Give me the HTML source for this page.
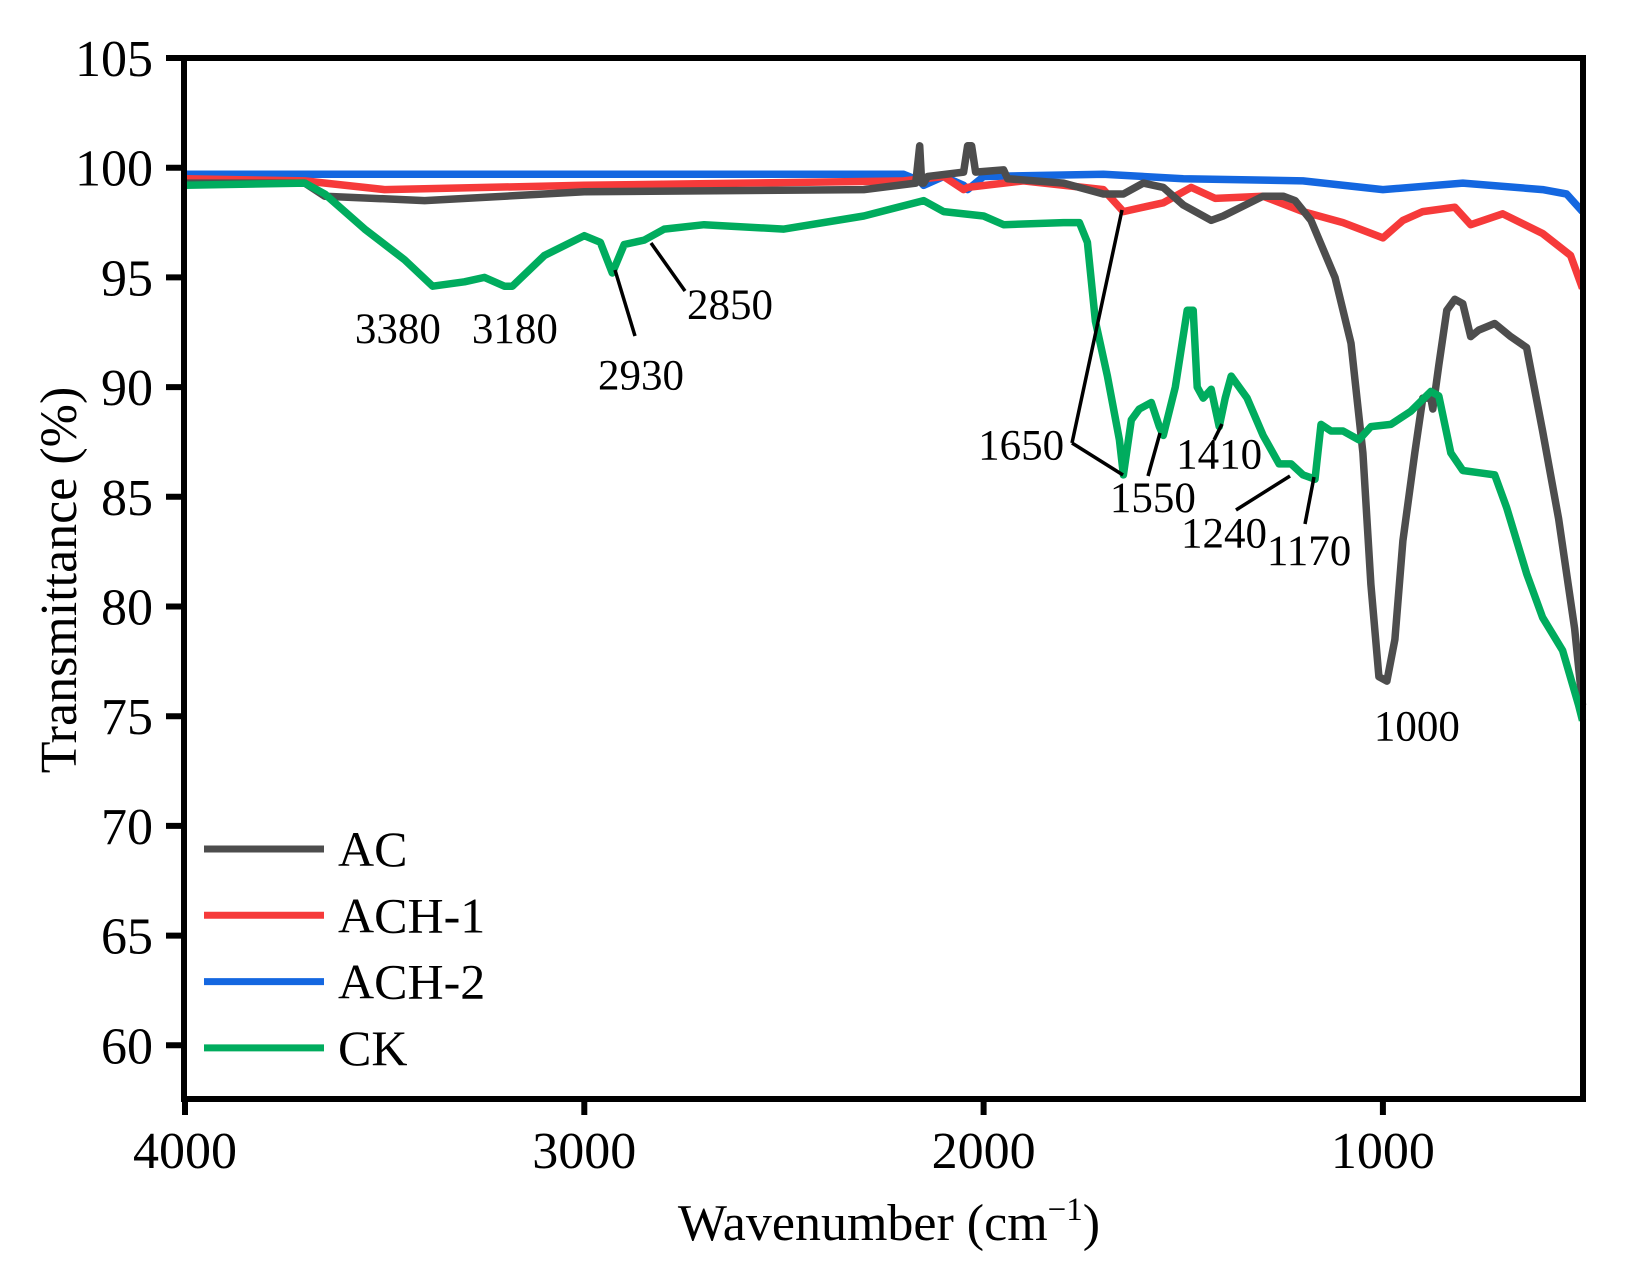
<!DOCTYPE html>
<html><head><meta charset="utf-8">
<style>
html,body{margin:0;padding:0;background:#fff;}
svg{display:block;font-family:"Liberation Serif","Times New Roman",serif;}
</style></head>
<body>
<svg id="chart" width="1632" height="1273" viewBox="0 0 1632 1273" xmlns="http://www.w3.org/2000/svg">
<g id="series"></g>
<g id="annot"></g>
<rect x="184" y="58" width="1399" height="1041" fill="none" stroke="#000" stroke-width="6"/>
<g id="axes"></g>
<text x="889" y="1240" font-size="52" text-anchor="middle">Wavenumber (cm<tspan dy="-20" font-size="33">−1</tspan><tspan dy="20">)</tspan></text>
<text transform="translate(76,580) rotate(-90)" font-size="52" text-anchor="middle">Transmittance (%)</text>
<g id="legend"></g>
</svg>
<script>
const xTicks=[4000,3000,2000,1000];
const yTicks=[60,65,70,75,80,85,90,95,100,105];
const seriesNames=["AC","ACH-1","ACH-2","CK"];
const seriesColors=["#4d4d4d","#f63a3a","#1467e0","#00ac5e"];
const acWn=[4000,3700,3650,3400,3000,2300,2170,2160,2155,2150,2140,2050,2040,2030,2020,1950,1940,1800,1700,1650,1600,1550,1500,1430,1400,1300,1250,1220,1180,1120,1080,1050,1030,1010,990,970,950,920,900,880,875,860,840,820,800,780,760,720,680,640,600,560,520,500];
const acVal=[99.3,99.3,98.7,98.5,98.9,99.0,99.3,101,99.3,99.3,99.6,99.8,101,101,99.8,99.9,99.5,99.3,98.8,98.8,99.3,99.1,98.3,97.6,97.8,98.7,98.7,98.5,97.6,95,92,87,81,76.8,76.6,78.5,83,87,89.5,89.5,89,91,93.5,94,93.8,92.3,92.6,92.9,92.3,91.8,88,84,79,75.5];
const h1Wn=[4000,3700,3500,3000,2200,2100,2050,2040,1900,1700,1650,1600,1550,1480,1420,1300,1200,1100,1000,950,900,820,780,700,600,530,500];
const h1Val=[99.5,99.4,99.0,99.2,99.4,99.6,99.0,99.1,99.4,99.0,98.0,98.2,98.4,99.1,98.6,98.7,98.0,97.5,96.8,97.6,98.0,98.2,97.4,97.9,97.0,96.0,94.5];
const h2Wn=[4000,3000,2200,2160,2150,2100,2050,2040,2000,1700,1500,1200,1000,800,600,540,500];
const h2Val=[99.7,99.7,99.7,99.4,99.2,99.6,99.2,99.0,99.6,99.7,99.5,99.4,99.0,99.3,99.0,98.8,98.0];
const ckWn=[4000,3700,3650,3550,3450,3380,3300,3250,3200,3180,3100,3000,2960,2930,2900,2850,2800,2700,2500,2300,2150,2100,2000,1950,1800,1760,1740,1720,1690,1660,1650,1630,1610,1580,1560,1550,1520,1490,1475,1465,1450,1430,1410,1395,1380,1340,1300,1260,1230,1200,1170,1155,1130,1100,1060,1030,980,930,880,860,830,800,760,720,690,640,600,550,510,500];
const ckVal=[99.2,99.3,98.8,97.2,95.8,94.6,94.8,95.0,94.6,94.6,96.0,96.9,96.6,95.2,96.5,96.7,97.2,97.4,97.2,97.8,98.5,98.0,97.8,97.4,97.5,97.5,96.6,93.0,90.5,87.6,86.0,88.5,89.0,89.3,88.2,87.8,90.0,93.5,93.5,90.0,89.5,89.9,88.2,89.5,90.5,89.5,87.8,86.5,86.5,86.0,85.8,88.3,88.0,88.0,87.6,88.2,88.3,88.9,89.8,89.6,87.0,86.2,86.1,86.0,84.5,81.5,79.5,78.0,75.5,74.8];
const seriesWn=[acWn,h1Wn,h2Wn,ckWn];
const seriesVal=[acVal,h1Val,h2Val,ckVal];
const annLabels=["3380","3180","2930","2850","1650","1550","1410","1240","1170","1000"];
const annLabelWn=[3467,3174,2858,2635,1906,1576,1410,1398,1185,915];
const annLabelVal=[92.0,92.0,89.9,93.1,86.7,84.3,86.3,82.7,81.9,73.9];

const NS="http://www.w3.org/2000/svg";
const X0=185, XS=0.3993, Y0=58, YS=21.94;
function xs(w){return X0+(4000-w)*XS;}
function ys(v){return Y0+(105-v)*YS;}
function mk(t,a,p){const e=document.createElementNS(NS,t);for(const k in a)e.setAttribute(k,a[k]);p.appendChild(e);return e;}

const sg=document.getElementById('series');
[2,1,0,3].forEach(i=>{
  const pts=seriesWn[i].map((w,j)=>xs(w).toFixed(1)+","+ys(seriesVal[i][j]).toFixed(1)).join(" ");
  const pl=mk('polyline',{points:pts,fill:'none',stroke:seriesColors[i],'stroke-width':7.5,'stroke-linejoin':'round'},sg);
  
  
});

const ax=document.getElementById('axes');
xTicks.forEach(t=>{
  const l=mk('line',{x1:xs(t),x2:xs(t),y1:1099,y2:1115,stroke:'#000','stroke-width':6},ax);
  
  
  const tx=mk('text',{x:xs(t),y:1168,'font-size':52,'text-anchor':'middle'},ax);
  tx.textContent=t;
  
  
});
yTicks.forEach(t=>{
  const l=mk('line',{x1:166,x2:184,y1:ys(t),y2:ys(t),stroke:'#000','stroke-width':6},ax);
  
  
  const tx=mk('text',{x:153,y:ys(t)+18,'font-size':52,'text-anchor':'end'},ax);
  tx.textContent=t;
  
  
});

const an=document.getElementById('annot');
annLabels.forEach((s,i)=>{
  const tx=mk('text',{x:xs(annLabelWn[i]),y:ys(annLabelVal[i]),'font-size':43,'text-anchor':'middle'},an);
  tx.textContent=s;
  
  
});
const leaders=[[615,270,635,336],[651,243,685,291],[1072,443,1122,210],[1072,443,1123,475],[1160,433,1148,476],[1222,424,1214,440],[1290,476,1236,510],[1314,477,1305,524]];
leaders.forEach((c,i)=>{
  const l=mk('line',{x1:c[0],y1:c[1],x2:c[2],y2:c[3],stroke:'#000','stroke-width':3.5},an);
  
  
});

const lg=document.getElementById('legend');
seriesNames.forEach((n,i)=>{
  const y=849+i*66.3;
  const l=mk('line',{x1:204,x2:324,y1:y,y2:y,stroke:seriesColors[i],'stroke-width':7},lg);
  
  
  const tx=mk('text',{x:338,y:y+17,'font-size':50},lg);
  tx.textContent=n;
  
  
});
</script>
</body></html>
